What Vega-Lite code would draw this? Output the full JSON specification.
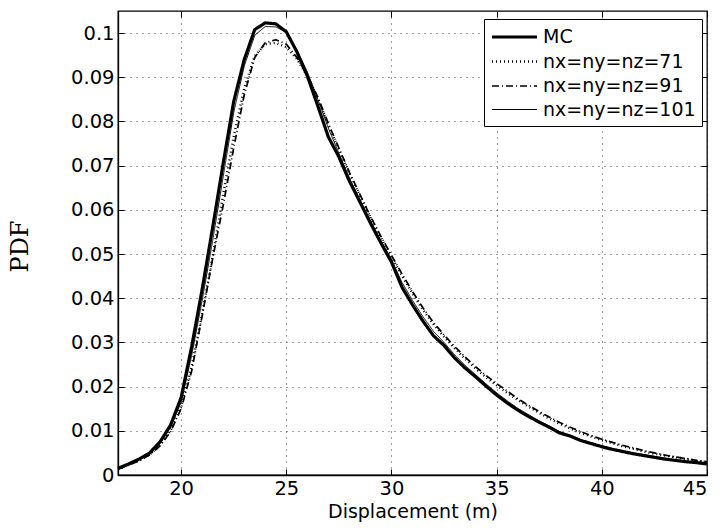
{
  "$schema": "https://vega.github.io/schema/vega-lite/v6.json",
  "width": 589,
  "height": 464,
  "autosize": {"type": "none"},
  "padding": {"left": 118, "top": 11, "right": 13, "bottom": 54},
  "background": "white",
  "config": {
    "font": "DejaVu Sans",
    "view": {"stroke": "black", "strokeWidth": 1.3},
    "axis": {
      "labelFont": "DejaVu Sans",
      "labelFontSize": 19.5,
      "labelColor": "black",
      "domainColor": "black",
      "domainWidth": 1.3,
      "tickColor": "black",
      "tickWidth": 1,
      "tickSize": -6,
      "gridColor": "#444",
      "gridDash": [1, 5],
      "gridWidth": 1,
      "gridOpacity": 1,
      "titleColor": "black",
      "titleFontWeight": "normal"
    },
    "legend": {
      "orient": "none",
      "legendX": 366,
      "legendY": 8,
      "strokeColor": "black",
      "fillColor": "white",
      "padding": 6,
      "labelFont": "DejaVu Sans",
      "labelFontSize": 19,
      "labelColor": "black",
      "symbolType": "M-1,0H3.5",
      "symbolSize": 400,
      "symbolStrokeColor": "black",
      "rowPadding": 3,
      "labelOffset": 29,
      "labelLimit": 300
    }
  },
  "data": {
    "values": [
      {"series": "MC", "x": 17, "y": 0.0015}, {"series": "MC", "x": 17.5, "y": 0.0025}, {"series": "MC", "x": 18, "y": 0.0036}, {"series": "MC", "x": 18.5, "y": 0.005}, {"series": "MC", "x": 19, "y": 0.0075}, {"series": "MC", "x": 19.5, "y": 0.0113}, {"series": "MC", "x": 20, "y": 0.0175}, {"series": "MC", "x": 20.5, "y": 0.029}, {"series": "MC", "x": 21, "y": 0.042}, {"series": "MC", "x": 21.5, "y": 0.056}, {"series": "MC", "x": 22, "y": 0.0705}, {"series": "MC", "x": 22.5, "y": 0.0845}, {"series": "MC", "x": 23, "y": 0.094}, {"series": "MC", "x": 23.5, "y": 0.1008}, {"series": "MC", "x": 24, "y": 0.1023}, {"series": "MC", "x": 24.5, "y": 0.1021}, {"series": "MC", "x": 25, "y": 0.1003}, {"series": "MC", "x": 25.5, "y": 0.0958}, {"series": "MC", "x": 26, "y": 0.0903}, {"series": "MC", "x": 26.5, "y": 0.0835}, {"series": "MC", "x": 27, "y": 0.0765}, {"series": "MC", "x": 27.5, "y": 0.072}, {"series": "MC", "x": 28, "y": 0.0665}, {"series": "MC", "x": 28.5, "y": 0.0618}, {"series": "MC", "x": 29, "y": 0.057}, {"series": "MC", "x": 29.5, "y": 0.0525}, {"series": "MC", "x": 30, "y": 0.0482}, {"series": "MC", "x": 30.5, "y": 0.0425}, {"series": "MC", "x": 31, "y": 0.0385}, {"series": "MC", "x": 31.5, "y": 0.0348}, {"series": "MC", "x": 32, "y": 0.0315}, {"series": "MC", "x": 32.5, "y": 0.0293}, {"series": "MC", "x": 33, "y": 0.0265}, {"series": "MC", "x": 33.5, "y": 0.0242}, {"series": "MC", "x": 34, "y": 0.0222}, {"series": "MC", "x": 34.5, "y": 0.0201}, {"series": "MC", "x": 35, "y": 0.0181}, {"series": "MC", "x": 35.5, "y": 0.0163}, {"series": "MC", "x": 36, "y": 0.0147}, {"series": "MC", "x": 36.5, "y": 0.0133}, {"series": "MC", "x": 37, "y": 0.012}, {"series": "MC", "x": 37.5, "y": 0.0108}, {"series": "MC", "x": 38, "y": 0.0095}, {"series": "MC", "x": 38.5, "y": 0.0088}, {"series": "MC", "x": 39, "y": 0.0078}, {"series": "MC", "x": 39.5, "y": 0.0071}, {"series": "MC", "x": 40, "y": 0.0064}, {"series": "MC", "x": 40.5, "y": 0.0058}, {"series": "MC", "x": 41, "y": 0.0053}, {"series": "MC", "x": 41.5, "y": 0.0048}, {"series": "MC", "x": 42, "y": 0.0044}, {"series": "MC", "x": 42.5, "y": 0.004}, {"series": "MC", "x": 43, "y": 0.0036}, {"series": "MC", "x": 43.5, "y": 0.0033}, {"series": "MC", "x": 44, "y": 0.003}, {"series": "MC", "x": 44.5, "y": 0.0028}, {"series": "MC", "x": 45, "y": 0.0025},

      {"series": "nx=ny=nz=71", "x": 17, "y": 0.0013}, {"series": "nx=ny=nz=71", "x": 17.5, "y": 0.0023}, {"series": "nx=ny=nz=71", "x": 18, "y": 0.0033}, {"series": "nx=ny=nz=71", "x": 18.5, "y": 0.0046}, {"series": "nx=ny=nz=71", "x": 19, "y": 0.0068}, {"series": "nx=ny=nz=71", "x": 19.5, "y": 0.0101}, {"series": "nx=ny=nz=71", "x": 20, "y": 0.0155}, {"series": "nx=ny=nz=71", "x": 20.5, "y": 0.0245}, {"series": "nx=ny=nz=71", "x": 21, "y": 0.0365}, {"series": "nx=ny=nz=71", "x": 21.5, "y": 0.0495}, {"series": "nx=ny=nz=71", "x": 22, "y": 0.0635}, {"series": "nx=ny=nz=71", "x": 22.5, "y": 0.0765}, {"series": "nx=ny=nz=71", "x": 23, "y": 0.0875}, {"series": "nx=ny=nz=71", "x": 23.5, "y": 0.0948}, {"series": "nx=ny=nz=71", "x": 24, "y": 0.0975}, {"series": "nx=ny=nz=71", "x": 24.5, "y": 0.0978}, {"series": "nx=ny=nz=71", "x": 25, "y": 0.0968}, {"series": "nx=ny=nz=71", "x": 25.5, "y": 0.0942}, {"series": "nx=ny=nz=71", "x": 26, "y": 0.0903}, {"series": "nx=ny=nz=71", "x": 26.5, "y": 0.0852}, {"series": "nx=ny=nz=71", "x": 27, "y": 0.0792}, {"series": "nx=ny=nz=71", "x": 27.5, "y": 0.0737}, {"series": "nx=ny=nz=71", "x": 28, "y": 0.0682}, {"series": "nx=ny=nz=71", "x": 28.5, "y": 0.0632}, {"series": "nx=ny=nz=71", "x": 29, "y": 0.0583}, {"series": "nx=ny=nz=71", "x": 29.5, "y": 0.0537}, {"series": "nx=ny=nz=71", "x": 30, "y": 0.0494}, {"series": "nx=ny=nz=71", "x": 30.5, "y": 0.0451}, {"series": "nx=ny=nz=71", "x": 31, "y": 0.0411}, {"series": "nx=ny=nz=71", "x": 31.5, "y": 0.0374}, {"series": "nx=ny=nz=71", "x": 32, "y": 0.0341}, {"series": "nx=ny=nz=71", "x": 32.5, "y": 0.0313}, {"series": "nx=ny=nz=71", "x": 33, "y": 0.0287}, {"series": "nx=ny=nz=71", "x": 33.5, "y": 0.0263}, {"series": "nx=ny=nz=71", "x": 34, "y": 0.0241}, {"series": "nx=ny=nz=71", "x": 34.5, "y": 0.0221}, {"series": "nx=ny=nz=71", "x": 35, "y": 0.0203}, {"series": "nx=ny=nz=71", "x": 35.5, "y": 0.0186}, {"series": "nx=ny=nz=71", "x": 36, "y": 0.017}, {"series": "nx=ny=nz=71", "x": 36.5, "y": 0.0155}, {"series": "nx=ny=nz=71", "x": 37, "y": 0.0141}, {"series": "nx=ny=nz=71", "x": 37.5, "y": 0.0128}, {"series": "nx=ny=nz=71", "x": 38, "y": 0.0116}, {"series": "nx=ny=nz=71", "x": 38.5, "y": 0.0105}, {"series": "nx=ny=nz=71", "x": 39, "y": 0.0095}, {"series": "nx=ny=nz=71", "x": 39.5, "y": 0.0087}, {"series": "nx=ny=nz=71", "x": 40, "y": 0.0079}, {"series": "nx=ny=nz=71", "x": 40.5, "y": 0.0072}, {"series": "nx=ny=nz=71", "x": 41, "y": 0.0065}, {"series": "nx=ny=nz=71", "x": 41.5, "y": 0.0059}, {"series": "nx=ny=nz=71", "x": 42, "y": 0.0053}, {"series": "nx=ny=nz=71", "x": 42.5, "y": 0.0048}, {"series": "nx=ny=nz=71", "x": 43, "y": 0.0044}, {"series": "nx=ny=nz=71", "x": 43.5, "y": 0.004}, {"series": "nx=ny=nz=71", "x": 44, "y": 0.0036}, {"series": "nx=ny=nz=71", "x": 44.5, "y": 0.0032}, {"series": "nx=ny=nz=71", "x": 45, "y": 0.0029},

      {"series": "nx=ny=nz=91", "x": 17, "y": 0.0013}, {"series": "nx=ny=nz=91", "x": 17.5, "y": 0.0022}, {"series": "nx=ny=nz=91", "x": 18, "y": 0.0032}, {"series": "nx=ny=nz=91", "x": 18.5, "y": 0.0045}, {"series": "nx=ny=nz=91", "x": 19, "y": 0.0066}, {"series": "nx=ny=nz=91", "x": 19.5, "y": 0.0098}, {"series": "nx=ny=nz=91", "x": 20, "y": 0.015}, {"series": "nx=ny=nz=91", "x": 20.5, "y": 0.0235}, {"series": "nx=ny=nz=91", "x": 21, "y": 0.036}, {"series": "nx=ny=nz=91", "x": 21.5, "y": 0.049}, {"series": "nx=ny=nz=91", "x": 22, "y": 0.061}, {"series": "nx=ny=nz=91", "x": 22.5, "y": 0.074}, {"series": "nx=ny=nz=91", "x": 23, "y": 0.086}, {"series": "nx=ny=nz=91", "x": 23.5, "y": 0.0945}, {"series": "nx=ny=nz=91", "x": 24, "y": 0.0978}, {"series": "nx=ny=nz=91", "x": 24.5, "y": 0.0985}, {"series": "nx=ny=nz=91", "x": 25, "y": 0.0975}, {"series": "nx=ny=nz=91", "x": 25.5, "y": 0.0945}, {"series": "nx=ny=nz=91", "x": 26, "y": 0.0905}, {"series": "nx=ny=nz=91", "x": 26.5, "y": 0.0855}, {"series": "nx=ny=nz=91", "x": 27, "y": 0.0795}, {"series": "nx=ny=nz=91", "x": 27.5, "y": 0.074}, {"series": "nx=ny=nz=91", "x": 28, "y": 0.0685}, {"series": "nx=ny=nz=91", "x": 28.5, "y": 0.0635}, {"series": "nx=ny=nz=91", "x": 29, "y": 0.0585}, {"series": "nx=ny=nz=91", "x": 29.5, "y": 0.054}, {"series": "nx=ny=nz=91", "x": 30, "y": 0.0497}, {"series": "nx=ny=nz=91", "x": 30.5, "y": 0.0455}, {"series": "nx=ny=nz=91", "x": 31, "y": 0.0415}, {"series": "nx=ny=nz=91", "x": 31.5, "y": 0.0378}, {"series": "nx=ny=nz=91", "x": 32, "y": 0.0345}, {"series": "nx=ny=nz=91", "x": 32.5, "y": 0.0317}, {"series": "nx=ny=nz=91", "x": 33, "y": 0.0291}, {"series": "nx=ny=nz=91", "x": 33.5, "y": 0.0267}, {"series": "nx=ny=nz=91", "x": 34, "y": 0.0245}, {"series": "nx=ny=nz=91", "x": 34.5, "y": 0.0225}, {"series": "nx=ny=nz=91", "x": 35, "y": 0.0207}, {"series": "nx=ny=nz=91", "x": 35.5, "y": 0.019}, {"series": "nx=ny=nz=91", "x": 36, "y": 0.0173}, {"series": "nx=ny=nz=91", "x": 36.5, "y": 0.0158}, {"series": "nx=ny=nz=91", "x": 37, "y": 0.0144}, {"series": "nx=ny=nz=91", "x": 37.5, "y": 0.0131}, {"series": "nx=ny=nz=91", "x": 38, "y": 0.0119}, {"series": "nx=ny=nz=91", "x": 38.5, "y": 0.0108}, {"series": "nx=ny=nz=91", "x": 39, "y": 0.0098}, {"series": "nx=ny=nz=91", "x": 39.5, "y": 0.0089}, {"series": "nx=ny=nz=91", "x": 40, "y": 0.0081}, {"series": "nx=ny=nz=91", "x": 40.5, "y": 0.0074}, {"series": "nx=ny=nz=91", "x": 41, "y": 0.0067}, {"series": "nx=ny=nz=91", "x": 41.5, "y": 0.0061}, {"series": "nx=ny=nz=91", "x": 42, "y": 0.0055}, {"series": "nx=ny=nz=91", "x": 42.5, "y": 0.005}, {"series": "nx=ny=nz=91", "x": 43, "y": 0.0045}, {"series": "nx=ny=nz=91", "x": 43.5, "y": 0.0041}, {"series": "nx=ny=nz=91", "x": 44, "y": 0.0037}, {"series": "nx=ny=nz=91", "x": 44.5, "y": 0.0033}, {"series": "nx=ny=nz=91", "x": 45, "y": 0.003},

      {"series": "nx=ny=nz=101", "x": 17, "y": 0.0014}, {"series": "nx=ny=nz=101", "x": 17.5, "y": 0.0024}, {"series": "nx=ny=nz=101", "x": 18, "y": 0.0034}, {"series": "nx=ny=nz=101", "x": 18.5, "y": 0.0048}, {"series": "nx=ny=nz=101", "x": 19, "y": 0.0072}, {"series": "nx=ny=nz=101", "x": 19.5, "y": 0.0108}, {"series": "nx=ny=nz=101", "x": 20, "y": 0.0165}, {"series": "nx=ny=nz=101", "x": 20.5, "y": 0.027}, {"series": "nx=ny=nz=101", "x": 21, "y": 0.0395}, {"series": "nx=ny=nz=101", "x": 21.5, "y": 0.053}, {"series": "nx=ny=nz=101", "x": 22, "y": 0.0675}, {"series": "nx=ny=nz=101", "x": 22.5, "y": 0.082}, {"series": "nx=ny=nz=101", "x": 23, "y": 0.0925}, {"series": "nx=ny=nz=101", "x": 23.5, "y": 0.0995}, {"series": "nx=ny=nz=101", "x": 24, "y": 0.1015}, {"series": "nx=ny=nz=101", "x": 24.5, "y": 0.1014}, {"series": "nx=ny=nz=101", "x": 25, "y": 0.1002}, {"series": "nx=ny=nz=101", "x": 25.5, "y": 0.0962}, {"series": "nx=ny=nz=101", "x": 26, "y": 0.0912}, {"series": "nx=ny=nz=101", "x": 26.5, "y": 0.085}, {"series": "nx=ny=nz=101", "x": 27, "y": 0.0785}, {"series": "nx=ny=nz=101", "x": 27.5, "y": 0.0728}, {"series": "nx=ny=nz=101", "x": 28, "y": 0.0672}, {"series": "nx=ny=nz=101", "x": 28.5, "y": 0.0623}, {"series": "nx=ny=nz=101", "x": 29, "y": 0.0575}, {"series": "nx=ny=nz=101", "x": 29.5, "y": 0.053}, {"series": "nx=ny=nz=101", "x": 30, "y": 0.0487}, {"series": "nx=ny=nz=101", "x": 30.5, "y": 0.0436}, {"series": "nx=ny=nz=101", "x": 31, "y": 0.0395}, {"series": "nx=ny=nz=101", "x": 31.5, "y": 0.0358}, {"series": "nx=ny=nz=101", "x": 32, "y": 0.0325}, {"series": "nx=ny=nz=101", "x": 32.5, "y": 0.03}, {"series": "nx=ny=nz=101", "x": 33, "y": 0.0272}, {"series": "nx=ny=nz=101", "x": 33.5, "y": 0.0248}, {"series": "nx=ny=nz=101", "x": 34, "y": 0.0227}, {"series": "nx=ny=nz=101", "x": 34.5, "y": 0.0206}, {"series": "nx=ny=nz=101", "x": 35, "y": 0.0186}, {"series": "nx=ny=nz=101", "x": 35.5, "y": 0.0168}, {"series": "nx=ny=nz=101", "x": 36, "y": 0.0151}, {"series": "nx=ny=nz=101", "x": 36.5, "y": 0.0137}, {"series": "nx=ny=nz=101", "x": 37, "y": 0.0123}, {"series": "nx=ny=nz=101", "x": 37.5, "y": 0.0111}, {"series": "nx=ny=nz=101", "x": 38, "y": 0.0098}, {"series": "nx=ny=nz=101", "x": 38.5, "y": 0.009}, {"series": "nx=ny=nz=101", "x": 39, "y": 0.008}, {"series": "nx=ny=nz=101", "x": 39.5, "y": 0.0073}, {"series": "nx=ny=nz=101", "x": 40, "y": 0.0066}, {"series": "nx=ny=nz=101", "x": 40.5, "y": 0.006}, {"series": "nx=ny=nz=101", "x": 41, "y": 0.0055}, {"series": "nx=ny=nz=101", "x": 41.5, "y": 0.005}, {"series": "nx=ny=nz=101", "x": 42, "y": 0.0046}, {"series": "nx=ny=nz=101", "x": 42.5, "y": 0.0042}, {"series": "nx=ny=nz=101", "x": 43, "y": 0.0038}, {"series": "nx=ny=nz=101", "x": 43.5, "y": 0.0034}, {"series": "nx=ny=nz=101", "x": 44, "y": 0.0031}, {"series": "nx=ny=nz=101", "x": 44.5, "y": 0.0029}, {"series": "nx=ny=nz=101", "x": 45, "y": 0.0026}
    ]
  },
  "layer": [
    {
      "mark": {"type": "line", "color": "black", "interpolate": "linear", "strokeJoin": "round"},
      "encoding": {
        "x": {
          "field": "x", "type": "quantitative",
          "scale": {"domain": [17, 45], "nice": false, "zero": false},
          "axis": {
            "orient": "bottom",
            "values": [20, 25, 30, 35, 40, 45],
            "grid": true,
            "title": "Displacement (m)",
            "titleFont": "DejaVu Sans",
            "titleFontSize": 19,
            "titlePadding": 5,
            "labelPadding": 10
          }
        },
        "y": {
          "field": "y", "type": "quantitative",
          "scale": {"domain": [0, 0.105], "nice": false},
          "axis": {
            "orient": "left",
            "values": [0, 0.01, 0.02, 0.03, 0.04, 0.05, 0.06, 0.07, 0.08, 0.09, 0.1],
            "format": "~g",
            "grid": true,
            "title": "PDF",
            "titleFont": "DejaVu Serif",
            "titleFontSize": 24,
            "titleAngle": -90,
            "titleAlign": "center",
            "titleBaseline": "middle",
            "titleX": -98,
            "titleY": 235,
            "labelPadding": 10
          }
        },
        "detail": {"field": "series"},
        "strokeDash": {
          "field": "series", "type": "nominal",
          "scale": {
            "domain": ["MC", "nx=ny=nz=71", "nx=ny=nz=91", "nx=ny=nz=101"],
            "range": [[1, 0], [1, 3], [7, 3, 1, 3], [1, 0]]
          },
          "legend": {"title": null}
        },
        "strokeWidth": {
          "field": "series", "type": "nominal",
          "scale": {
            "domain": ["MC", "nx=ny=nz=71", "nx=ny=nz=91", "nx=ny=nz=101"],
            "range": [3.2, 1, 1, 1]
          },
          "legend": {"title": null}
        },
        "order": {"field": "x", "type": "quantitative"}
      }
    },
    {
      "mark": {"type": "line", "opacity": 0},
      "encoding": {
        "x": {
          "field": "x", "type": "quantitative",
          "axis": {"orient": "top", "values": [20, 25, 30, 35, 40, 45], "labels": false, "grid": false, "domain": false, "title": null}
        },
        "y": {
          "field": "y", "type": "quantitative",
          "axis": {"orient": "right", "values": [0, 0.01, 0.02, 0.03, 0.04, 0.05, 0.06, 0.07, 0.08, 0.09, 0.1], "labels": false, "grid": false, "domain": false, "title": null}
        },
        "detail": {"field": "series"}
      }
    }
  ]
}
